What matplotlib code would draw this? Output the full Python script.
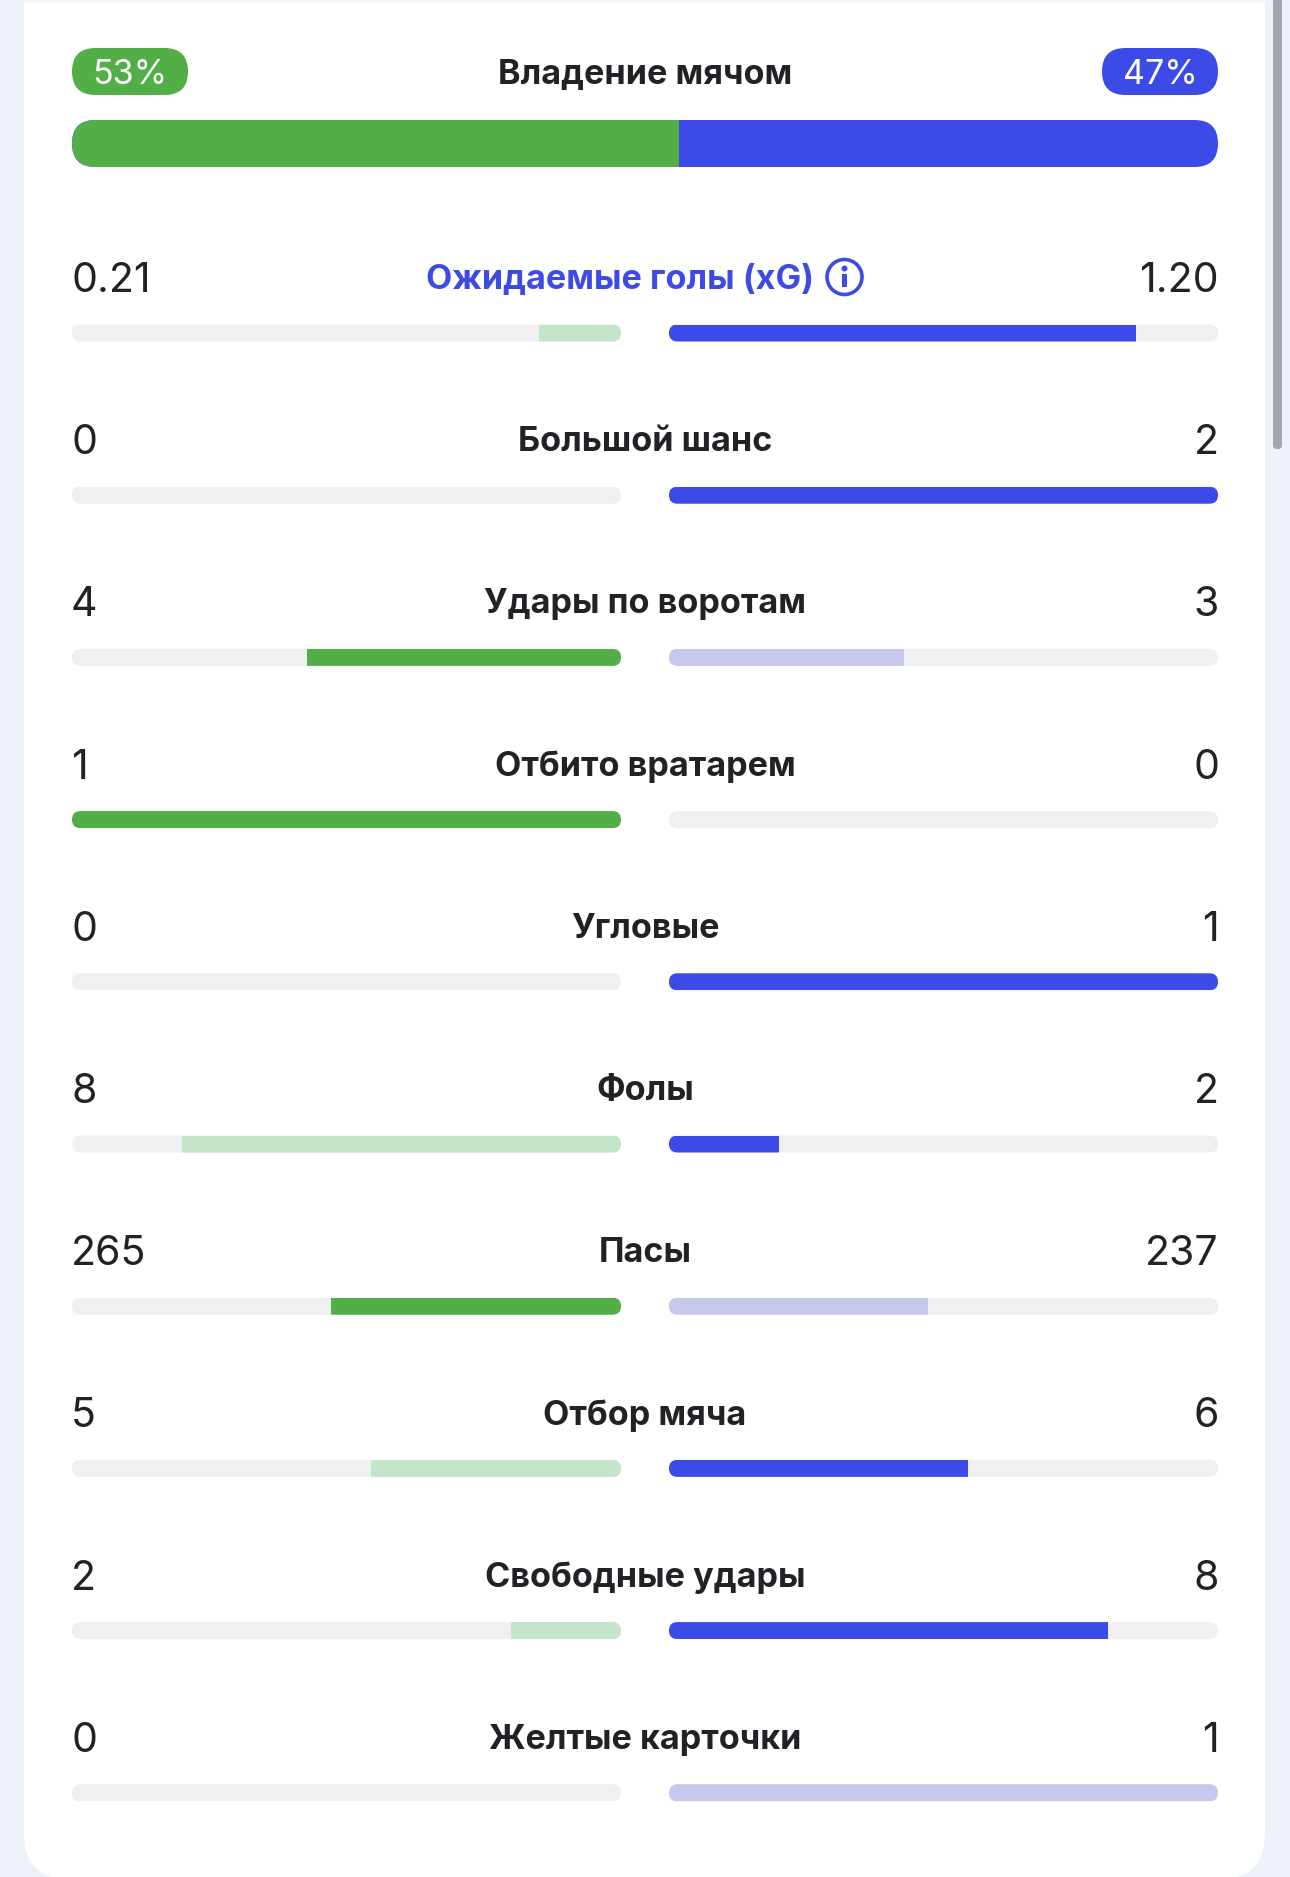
import matplotlib
matplotlib.use("Agg")
import matplotlib.pyplot as plt
from matplotlib.patches import FancyBboxPatch, Rectangle, Circle

# ---------------- data ----------------
possession_home = 53
possession_away = 47
possession_title = "Владение мячом"

stat_titles = ["Ожидаемые голы (xG)", "Большой шанс", "Удары по воротам", "Отбито вратарем",
               "Угловые", "Фолы", "Пасы", "Отбор мяча", "Свободные удары", "Желтые карточки"]
home_labels = ["0.21", "0", "4", "1", "0", "8", "265", "5", "2", "0"]
away_labels = ["1.20", "2", "3", "0", "1", "2", "237", "6", "8", "1"]
home_values = [0.21, 0, 4, 1, 0, 8, 265, 5, 2, 0]
away_values = [1.20, 2, 3, 0, 1, 2, 237, 6, 8, 1]
# which side is highlighted (strong colour) in each row: 'h', 'a' or ''
highlight = ["a", "a", "h", "h", "a", "a", "h", "a", "a", ""]

# ---------------- style ----------------
GREEN = "#52ae47"
GREEN_L = "#c4e5c8"
BLUE = "#3c4ae8"
BLUE_L = "#c6c8ee"
TRACK = "#f0f0f2"
TEXT = "#222226"
BG = "#edf1f8"

W, H = 1290, 1877
fig = plt.figure(figsize=(W / 100, H / 100), dpi=100)
fig.patch.set_facecolor(BG)
ax = fig.add_axes([0, 0, 1, 1])
ax.set_xlim(0, W)
ax.set_ylim(H, 0)
ax.axis("off")

# card
card = FancyBboxPatch((24, -60), 1241, H + 60 + 2, boxstyle="round,pad=0,rounding_size=45",
                      facecolor="white", edgecolor="none", zorder=0)
ax.add_patch(card)
ax.add_patch(Rectangle((24, 0), 1241, 3, facecolor="#f4f6f9", edgecolor="none", zorder=0.5))
# scrollbar
ax.add_patch(FancyBboxPatch((1273, -10), 9, 459, boxstyle="round,pad=0,rounding_size=4",
                            facecolor="#a4a6ad", edgecolor="none", zorder=1))

LX0, LX1 = 72, 621
RX0, RX1 = 669, 1218
CX = 645

num_font = dict(family=["Inter", "DejaVu Sans"], fontsize=29.5, color=TEXT)
title_font = dict(family=["Inter", "DejaVu Sans"], fontsize=24.6, fontweight="bold")

# ---------------- possession ----------------
def pill(x0, x1, y0, y1, color, label):
    p = FancyBboxPatch((x0, y0), x1 - x0, y1 - y0, boxstyle=f"round,pad=0,rounding_size={(y1-y0)/2}",
                       facecolor=color, edgecolor="none", zorder=2)
    ax.add_patch(p)
    ax.text((x0 + x1) / 2, (y0 + y1) / 2 + 3, label, ha="center", va="center", color="white",
            family=["Inter", "DejaVu Sans"], fontsize=24.5, zorder=3)

pill(72, 188, 48, 95, GREEN, f"{possession_home}%")
pill(1102, 1218, 48, 95, BLUE, f"{possession_away}%")
ax.text(CX, 75, possession_title, ha="center", va="center", color=TEXT, zorder=3, **title_font)

pb_y0, pb_h = 120, 47
ptrack = FancyBboxPatch((LX0, pb_y0), RX1 - LX0, pb_h, boxstyle=f"round,pad=0,rounding_size={pb_h/2}",
                        facecolor=BLUE, edgecolor="none", zorder=2)
ax.add_patch(ptrack)
split = LX0 + (RX1 - LX0) * possession_home / (possession_home + possession_away)
g = Rectangle((LX0, pb_y0), split - LX0, pb_h, facecolor=GREEN, edgecolor="none", zorder=3)
ax.add_patch(g)
g.set_clip_path(ptrack)

# ---------------- stat rows ----------------
ROW0_TEXT = 280
ROW0_BAR = 333
STEP = 162.2
BAR_H = 17

fig.canvas.draw()
renderer = fig.canvas.get_renderer()

for i, title in enumerate(stat_titles):
    ty = ROW0_TEXT + i * STEP
    by = ROW0_BAR + i * STEP
    ax.text(LX0 - 1, ty + 1, home_labels[i], ha="left", va="center", zorder=3, **num_font)
    ax.text(RX1 + 1, ty + 1, away_labels[i], ha="right", va="center", zorder=3, **num_font)

    if i == 0:
        t = ax.text(CX, ty, title, ha="left", va="center", color=BLUE, zorder=3, **title_font)
        bb = t.get_window_extent(renderer)
        tw = bb.width
        gap, icon = 11, 38
        left = CX - (tw + gap + icon) / 2
        t.set_x(left)
        icx = left + tw + gap + icon / 2
        icy = ty - 3
        ax.add_patch(Circle((icx, icy), icon / 2 - 1.5, facecolor="white", edgecolor=BLUE, lw=2.6, zorder=3))
        ax.add_patch(Rectangle((icx - 2.4, icy - 3), 4.8, 13, facecolor=BLUE, edgecolor="none", zorder=4))
        ax.add_patch(Circle((icx, icy - 8.5), 3.0, facecolor=BLUE, edgecolor="none", zorder=4))
    else:
        ax.text(CX, ty, title, ha="center", va="center", color=TEXT, zorder=3, **title_font)

    total = home_values[i] + away_values[i]
    hf = home_values[i] / total if total else 0
    af = away_values[i] / total if total else 0

    for side, x0, x1, frac in (("h", LX0, LX1, hf), ("a", RX0, RX1, af)):
        track = FancyBboxPatch((x0, by - BAR_H / 2), x1 - x0, BAR_H,
                               boxstyle=f"round,pad=0,rounding_size={BAR_H/2}",
                               facecolor=TRACK, edgecolor="none", zorder=2)
        ax.add_patch(track)
        if frac <= 0:
            continue
        strong = highlight[i] == side
        fw = (x1 - x0) * frac
        if side == "h":
            col = GREEN if strong else GREEN_L
            r = Rectangle((x1 - fw, by - BAR_H / 2), fw, BAR_H, facecolor=col, edgecolor="none", zorder=3)
        else:
            col = BLUE if strong else BLUE_L
            r = Rectangle((x0, by - BAR_H / 2), fw, BAR_H, facecolor=col, edgecolor="none", zorder=3)
        ax.add_patch(r)
        r.set_clip_path(track)

fig.savefig("out.png", dpi=100, facecolor=fig.get_facecolor())
